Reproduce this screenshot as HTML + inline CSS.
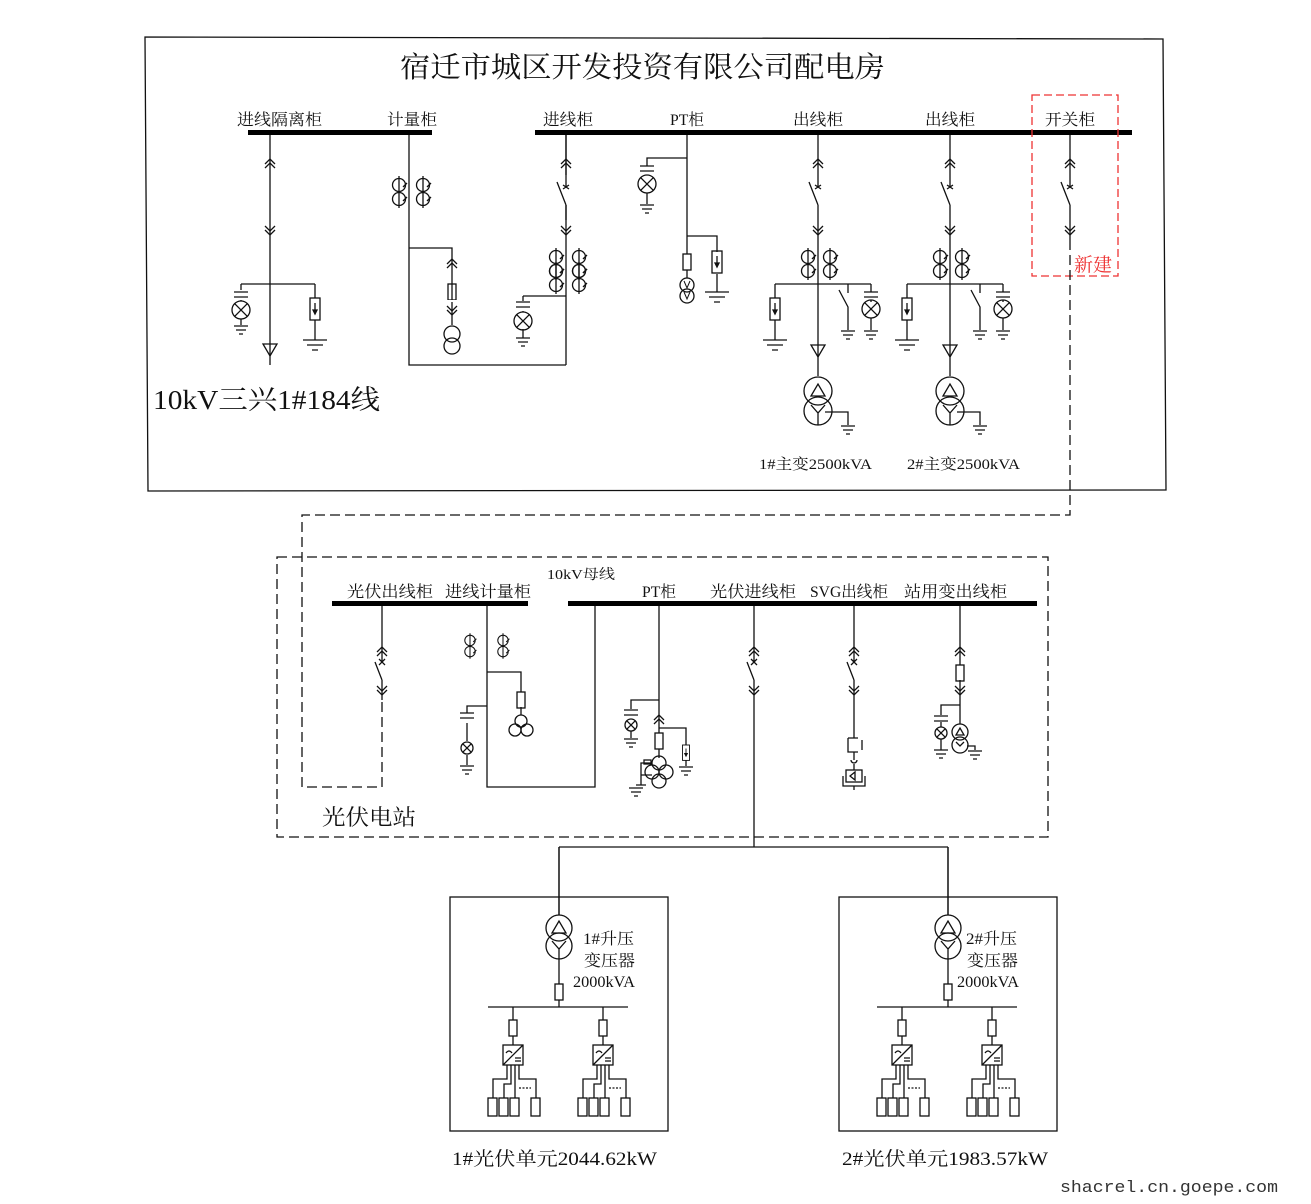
<!DOCTYPE html>
<html><head><meta charset="utf-8"><style>
html,body{margin:0;padding:0;background:#fff}
svg{display:block}
text{font-family:"Liberation Serif","Noto Serif CJK SC",serif;fill:#111}
</style></head><body>
<svg width="1311" height="1204" viewBox="0 0 1311 1204" xmlns="http://www.w3.org/2000/svg" fill="none" stroke="#111" stroke-width="1.3">
<defs>
<g id="cu"><path d="M-5,4 L0,-1 L5,4 M-5,8 L0,3 L5,8"/></g>
<g id="cd"><path d="M-5,-4 L0,1 L5,-4 M-5,-8 L0,-3 L5,-8"/></g>
<g id="lamp"><circle r="9"/><path d="M-6.4,-6.4 L6.4,6.4 M6.4,-6.4 L-6.4,6.4"/></g>
<g id="lamps"><circle r="6"/><path d="M-4.2,-4.2 L4.2,4.2 M4.2,-4.2 L-4.2,4.2"/></g>
<g id="cap"><path d="M-7,0 H7 M-7,5 H7"/></g>
<g id="gnd"><path d="M-12,0 H12 M-8,5 H8 M-3,10 H3"/></g>
<g id="gnds"><path d="M-7,0 H7 M-5,4 H5 M-2,8 H2"/></g>
<g id="arr"><rect x="-5" y="0" width="10" height="22"/><path d="M0,5 V15" /><path d="M-2,12 L0,16 L2,12 Z" fill="#111"/></g>
<g id="ct"><circle cx="0" cy="-7" r="6.5"/><circle cx="0" cy="7" r="6.5"/><path d="M0,-16 V16 M4,-5 l4,-4 M4,9 l4,-4" /></g>
<g id="tri"><path d="M-7,0 H7 L0,12 Z"/></g>
<g id="xf"><circle cx="0" cy="0" r="14"/><circle cx="0" cy="20" r="14"/><path d="M-7,5 L0,-7 L7,5 Z M-7,14 L0,22 L7,14 M0,22 V34"/></g>
<g id="fuse"><rect x="-4" y="0" width="8" height="16"/></g>
</defs>

<!-- top box -->
<path d="M145,37 L1163,39 L1166,490 L148,491 Z"/>
<text x="400" y="77" font-size="29" stroke="none" textLength="485" lengthAdjust="spacingAndGlyphs">宿迁市城区开发投资有限公司配电房</text>
<g stroke="none" font-size="16">
<text x="237" y="125" textLength="85" lengthAdjust="spacingAndGlyphs">进线隔离柜</text>
<text x="387" y="125" textLength="50" lengthAdjust="spacingAndGlyphs">计量柜</text>
<text x="543" y="125" textLength="50" lengthAdjust="spacingAndGlyphs">进线柜</text>
<text x="670" y="125" textLength="34" lengthAdjust="spacingAndGlyphs">PT柜</text>
<text x="793" y="125" textLength="50" lengthAdjust="spacingAndGlyphs">出线柜</text>
<text x="925" y="125" textLength="50" lengthAdjust="spacingAndGlyphs">出线柜</text>
<text x="1045" y="125" textLength="50" lengthAdjust="spacingAndGlyphs">开关柜</text>
</g>
<rect x="248" y="130" width="184" height="5" fill="#000" stroke="none"/>
<rect x="535" y="130" width="597" height="5" fill="#000" stroke="none"/>
<text x="153" y="409" font-size="27" stroke="none" textLength="227" lengthAdjust="spacingAndGlyphs">10kV三兴1#184线</text>

<!-- col1 -->
<path d="M270,135 V365 M241,284 H315 M241,284 V290 M241,300 V301 M241,319 V325 M315,284 V298 M315,320 V340"/>
<use href="#cu" x="270" y="160"/><use href="#cd" x="270" y="234"/>
<use href="#cap" x="241" y="292"/><use href="#lamp" x="241" y="310"/><use href="#gnds" x="241" y="326"/>
<use href="#arr" x="315" y="298"/><use href="#gnd" x="315" y="340"/>
<use href="#tri" x="270" y="344"/>

<!-- col2 -->
<path d="M409,135 V365 H566 M409,248 H452 V325 M566,135 V365"/>
<use href="#ct" x="399" y="192"/><use href="#ct" x="423" y="192"/>
<use href="#cu" x="452" y="260"/><use href="#fuse" x="452" y="284"/><use href="#cd" x="452" y="314"/>
<rect x="444" y="300" width="16" height="2" fill="#fff" stroke="none"/>
<circle cx="452" cy="334" r="8" fill="#fff"/><circle cx="452" cy="346" r="8"/>

<!-- col3 进线柜 -->
<rect x="562" y="175" width="8" height="30" fill="#fff" stroke="none"/>
<path d="M566,135 V187 M566,205 V220 M557,182 L566,205 M563,185 l6,4 M569,185 l-6,4"/>
<use href="#cu" x="566" y="160"/><use href="#cd" x="566" y="234"/>
<use href="#ct" x="556" y="264"/><use href="#ct" x="556" y="278"/><use href="#ct" x="579" y="264"/><use href="#ct" x="579" y="278"/>
<path d="M523,296 H566 M523,296 V301 M523,311 V312 M523,329 V338"/>
<use href="#cap" x="523" y="302"/><use href="#lamp" x="523" y="321"/><use href="#gnds" x="523" y="338"/>

<!-- PT -->
<path d="M687,135 V254 M687,158 H647 V166 M647,176 V176 M647,193 V204 M687,236 H717 V252 M717,274 V292 M687,270 V278"/>
<use href="#cap" x="647" y="166"/><use href="#lamp" x="647" y="184"/><use href="#gnds" x="647" y="205"/>
<use href="#fuse" x="687" y="254"/><use href="#arr" x="717" y="251"/><use href="#gnd" x="717" y="292"/>
<circle cx="687" cy="285" r="7"/><circle cx="687" cy="296" r="7"/>
<path d="M684,281 L687,288 L690,281 M684,292 L687,299 L690,292" stroke-width="1"/>

<!-- outgoing feeders -->
<g id="feeder">
<rect x="814" y="175" width="8" height="30" fill="#fff" stroke="none"/>
<path d="M818,135 V187 M818,205 V376 M809,182 L818,205 M815,185 l6,4 M821,185 l-6,4"/>
<use href="#cu" x="818" y="160"/><use href="#cd" x="818" y="234"/>
<use href="#ct" x="808" y="264"/><use href="#ct" x="830" y="264"/>
<path d="M775,284 H871 M775,284 V298 M775,320 V340 M848,284 V290 M848,290 V293 M839,290 L848,307 V330 M871,284 V292 M871,302 V300 M871,318 V330"/>
<use href="#arr" x="775" y="298"/><use href="#gnd" x="775" y="340"/>
<use href="#gnds" x="848" y="331"/>
<use href="#cap" x="871" y="292"/><use href="#lamp" x="871" y="309"/><use href="#gnds" x="871" y="331"/>
<use href="#tri" x="818" y="345"/>
<use href="#xf" x="818" y="391"/>
<path d="M825,412 H848 V425"/><use href="#gnds" x="848" y="426"/>
</g>
<use href="#feeder" x="132" y="0"/>
<g stroke="none" font-size="15">
<text x="759" y="469" textLength="113" lengthAdjust="spacingAndGlyphs">1#主变2500kVA</text>
<text x="907" y="469" textLength="113" lengthAdjust="spacingAndGlyphs">2#主变2500kVA</text></g>

<!-- 开关柜 -->
<rect x="1066" y="175" width="8" height="30" fill="#fff" stroke="none"/>
<path d="M1070,135 V187 M1070,205 V240 M1061,182 L1070,205 M1067,185 l6,4 M1073,185 l-6,4"/>
<use href="#cu" x="1070" y="160"/><use href="#cd" x="1070" y="234"/>
<rect x="1032" y="95" width="86" height="181" stroke="#e33" stroke-dasharray="8,4"/>
<text x="1074" y="271" font-size="19" stroke="none" style="fill:#e33">新建</text>

<!-- dashed link -->
<path d="M1070,240 V515 H302 V787 H382 V700" stroke-dasharray="10,5"/>

<!-- middle dashed box -->
<path d="M277,557 H1048 V837 H277 Z" stroke-dasharray="10,5"/>
<text x="322" y="825" font-size="22" stroke="none" textLength="94" lengthAdjust="spacingAndGlyphs">光伏电站</text>
<text x="547" y="579" font-size="14" stroke="none" textLength="68" lengthAdjust="spacingAndGlyphs">10kV母线</text>
<g stroke="none" font-size="16">
<text x="347" y="597" textLength="86" lengthAdjust="spacingAndGlyphs">光伏出线柜</text>
<text x="445" y="597" textLength="86" lengthAdjust="spacingAndGlyphs">进线计量柜</text>
<text x="642" y="597" textLength="34" lengthAdjust="spacingAndGlyphs">PT柜</text>
<text x="710" y="597" textLength="86" lengthAdjust="spacingAndGlyphs">光伏进线柜</text>
<text x="810" y="597" textLength="78" lengthAdjust="spacingAndGlyphs">SVG出线柜</text>
<text x="904" y="597" textLength="103" lengthAdjust="spacingAndGlyphs">站用变出线柜</text>
</g>
<rect x="332" y="601" width="196" height="5" fill="#000" stroke="none"/>
<rect x="568" y="601" width="469" height="5" fill="#000" stroke="none"/>

<!-- 光伏出线柜 -->
<g id="brk2">
<path d="M382,606 V662 M382,680 V700 M375,662 L382,680 M379,659 l6,6 M385,659 l-6,6"/>
<use href="#cu" x="382" y="648"/><use href="#cd" x="382" y="694"/>
</g>
<!-- 进线计量柜 -->
<path d="M487,606 V787 H595 V606 M487,672 H521 V692 M521,707 V715 M487,706 H467 V713 M467,723 V741 M467,755 V765"/>
<g transform="translate(470,646) scale(0.8)"><use href="#ct"/></g>
<g transform="translate(503,646) scale(0.8)"><use href="#ct"/></g>
<use href="#fuse" x="521" y="692"/>
<circle cx="521" cy="721" r="6"/><circle cx="515" cy="730" r="6"/><circle cx="527" cy="730" r="6"/>
<use href="#cap" x="467" y="713"/><use href="#lamps" x="467" y="748"/><use href="#gnds" x="467" y="766"/>
<!-- PT -->
<path d="M659,606 V733 M659,700 H631 V709 M631,719 V719 M631,731 V738 M659,728 H686 V745 M686,760 V766 M659,749 V758"/>
<use href="#cap" x="631" y="710"/><use href="#lamps" x="631" y="725"/><use href="#gnds" x="631" y="739"/>
<use href="#cu" x="659" y="716"/><use href="#fuse" x="659" y="733"/>
<g transform="translate(686,745) scale(0.7)"><use href="#arr"/></g><use href="#gnds" x="686" y="767"/>
<circle cx="659" cy="763" r="7"/><circle cx="652" cy="772" r="7"/><circle cx="666" cy="772" r="7"/><circle cx="659" cy="781" r="7"/>
<path d="M652,763 H641 V785 M641,775 H652 M636,785 H646"/><rect x="644" y="760" width="7" height="4"/>
<use href="#gnds" x="636" y="788"/>
<!-- 光伏进线柜 -->
<use href="#brk2" x="372" y="0"/>
<path d="M754,700 V847 M559,847 H948 M559,847 V915 M948,847 V915"/>
<!-- SVG -->
<use href="#brk2" x="472" y="0"/>
<path d="M854,700 V738 M848,738 H858 M848,738 V752 H858 M854,752 V760 M862,740 V750" />
<path d="M851,760 a3,3 0 1,0 6,0 M854,764 V770"/>
<rect x="846" y="770" width="16" height="12"/><path d="M843,776 V786 H865 V776 M854,786 V790 M850,776 L855,772 V780 Z"/>
<!-- 站用变 -->
<path d="M960,606 V665 M960,680 V705 M960,705 H941 V715 M941,722 V727 M941,739 V750 M960,705 V724 M967,746 H975 V750"/>
<use href="#cu" x="960" y="648"/><use href="#fuse" x="960" y="665"/><use href="#cd" x="960" y="694"/>
<use href="#cap" x="941" y="716"/><use href="#lamps" x="941" y="733"/><use href="#gnds" x="941" y="750"/>
<circle cx="960" cy="732" r="8"/><circle cx="960" cy="745" r="8"/><path d="M956,735 L960,728 L964,735 Z M956,742 L960,746 L964,742"/>
<use href="#gnds" x="975" y="751"/>

<!-- bottom units -->
<g id="unit">
<rect x="450" y="897" width="218" height="234"/>
<path d="M559,847 V915"/>
<circle cx="559" cy="928" r="13"/><circle cx="559" cy="946" r="13"/>
<path d="M552,933 L559,921 L566,933 Z M552,941 L559,949 L566,941 M559,949 V959 M559,959 V984 M559,1000 V1007 M488,1007 H628"/>
<use href="#fuse" x="559" y="984"/>
<g id="inv">
<path d="M513,1007 V1020 M513,1036 V1045"/><use href="#fuse" x="513" y="1020"/>
<rect x="503" y="1045" width="20" height="20"/><path d="M503,1065 L523,1045 M506,1053 q3,-4 6,0 M515,1058 H521 M515,1061 H521"/>
<path d="M507,1065 V1079 H493 V1098 M511,1065 V1084 H504 V1098 M515,1065 V1098 M519,1065 V1079 H536 V1098"/>
<path d="M519,1088 H531" stroke-dasharray="2,1.5"/>
<rect x="488" y="1098" width="9" height="18"/><rect x="499" y="1098" width="9" height="18"/><rect x="510" y="1098" width="9" height="18"/><rect x="531" y="1098" width="9" height="18"/>
</g>
<use href="#inv" x="90" y="0"/>
</g>
<use href="#unit" x="389" y="0"/>
<g stroke="none" font-size="16">
<text x="583" y="944" textLength="51" lengthAdjust="spacingAndGlyphs">1#升压</text>
<text x="584" y="966" textLength="51" lengthAdjust="spacingAndGlyphs">变压器</text>
<text x="573" y="987" textLength="62" lengthAdjust="spacingAndGlyphs">2000kVA</text>
<text x="966" y="944" textLength="51" lengthAdjust="spacingAndGlyphs">2#升压</text>
<text x="967" y="966" textLength="51" lengthAdjust="spacingAndGlyphs">变压器</text>
<text x="957" y="987" textLength="62" lengthAdjust="spacingAndGlyphs">2000kVA</text>
</g>
<text x="452" y="1165" font-size="19" stroke="none" textLength="205" lengthAdjust="spacingAndGlyphs">1#光伏单元2044.62kW</text>
<text x="842" y="1165" font-size="19" stroke="none" textLength="206" lengthAdjust="spacingAndGlyphs">2#光伏单元1983.57kW</text>
<text x="1060" y="1192" font-size="17" stroke="none" textLength="218" lengthAdjust="spacingAndGlyphs" style="font-family:'Liberation Mono',monospace;fill:#333">shacrel.cn.goepe.com</text>
</svg>
</body></html>
